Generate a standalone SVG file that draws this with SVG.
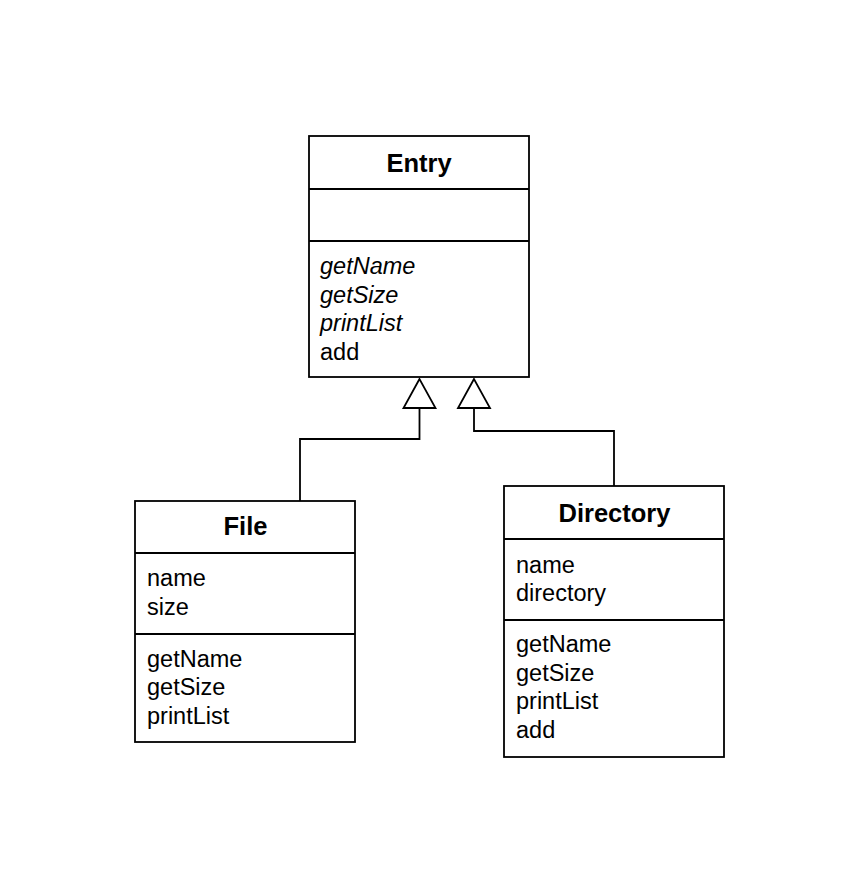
<svg xmlns="http://www.w3.org/2000/svg" width="860" height="891" viewBox="0 0 860 891">
<style>
.box{fill:#fff;stroke:#000;stroke-width:1.8}
.div{stroke:#000;stroke-width:1.8}
.title{font-family:"Liberation Sans",Arial,sans-serif;font-size:25.5px;font-weight:bold;text-anchor:middle;fill:#000}
.t{font-family:"Liberation Sans",Arial,sans-serif;font-size:23.5px;fill:#000}
.i{font-style:italic}
.conn{fill:none;stroke:#000;stroke-width:1.8}
.tri{fill:#fff;stroke:#000;stroke-width:1.8;stroke-linejoin:miter}
</style>
<rect width="860" height="891" fill="#fff"/>
<g id="connectors">
<path class="conn" d="M419.5,408 V439 H300 V501"/>
<path class="conn" d="M474,408 V431 H614 V486"/>
<polygon class="tri" points="419.5,379 403.5,408 435.5,408"/>
<polygon class="tri" points="474,379 458,408 490,408"/>
</g>
<g id="Entry">
<rect class="box" x="309" y="136" width="220" height="241"/>
<line class="div" x1="309" y1="189" x2="529" y2="189"/>
<line class="div" x1="309" y1="241" x2="529" y2="241"/>
<text class="title" x="419" y="172">Entry</text>
<text class="t i" x="320" y="274">getName</text>
<text class="t i" x="320" y="302.5">getSize</text>
<text class="t i" x="320" y="331">printList</text>
<text class="t" x="320" y="359.5">add</text>
</g>
<g id="File">
<rect class="box" x="135" y="501" width="220" height="241"/>
<line class="div" x1="135" y1="553" x2="355" y2="553"/>
<line class="div" x1="135" y1="634" x2="355" y2="634"/>
<text class="title" x="245.5" y="535">File</text>
<text class="t" x="147" y="586">name</text>
<text class="t" x="147" y="614.5">size</text>
<text class="t" x="147" y="666.5">getName</text>
<text class="t" x="147" y="695">getSize</text>
<text class="t" x="147" y="723.5">printList</text>
</g>
<g id="Directory">
<rect class="box" x="504" y="486" width="220" height="271"/>
<line class="div" x1="504" y1="539" x2="724" y2="539"/>
<line class="div" x1="504" y1="620" x2="724" y2="620"/>
<text class="title" x="614.5" y="522">Directory</text>
<text class="t" x="516" y="572.5">name</text>
<text class="t" x="516" y="601">directory</text>
<text class="t" x="516" y="652">getName</text>
<text class="t" x="516" y="680.5">getSize</text>
<text class="t" x="516" y="709">printList</text>
<text class="t" x="516" y="737.5">add</text>
</g>
</svg>
